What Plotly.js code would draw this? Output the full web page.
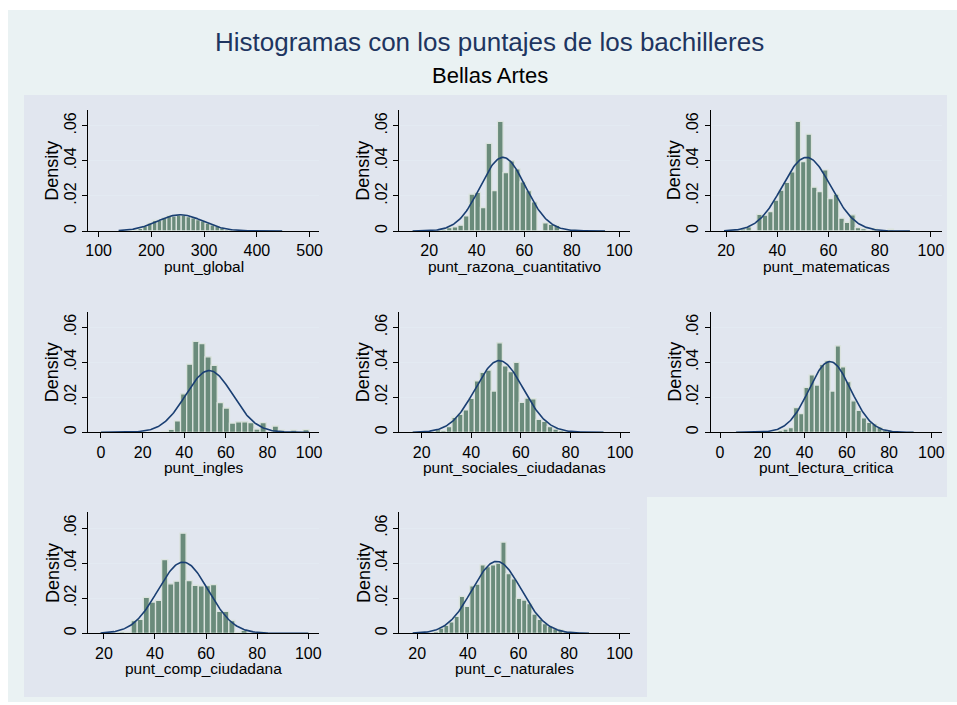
<!DOCTYPE html>
<html><head><meta charset="utf-8">
<script src="https://cdn.plot.ly/plotly-3.0.1.min.js"></script>
<style>html,body{margin:0;padding:0;background:#fff}#chart{width:957px;height:705px}</style>
</head><body><div id="chart"></div>
<script>
// ---------------- DATA ----------------
const variables = ["punt_global","punt_razona_cuantitativo","punt_matematicas","punt_ingles",
  "punt_sociales_ciudadanas","punt_lectura_critica","punt_comp_ciudadana","punt_c_naturales"];

// histogram bins: first edge and width (34 bins each), densities
const binStart = [138, 13, 19.2, 0, 16.4, 7.6, 18.7, 18.2];
const binWidth = [9.12, 2.38, 2.135, 2.94, 2.26, 2.47, 2.39, 2.05];

const dens_global = [0.0001,0,0.0003,0.0008,0.0015,0.003,0.0045,0.006,0.0062,0.0075,0.0088,0.0085,0.0092,0.009,0.0082,0.0075,0.0065,0.0058,0.0045,0.0035,0.0028,0.0018,0.001,0.0006,0.0003,0.0002,0.0001,0,0,0,0.0001,0,0,0.0001];
const dens_razona = [0.0002,0,0,0,0,0.001,0.002,0.0023,0.0033,0.0086,0.021,0.022,0.0134,0.050,0.023,0.0625,0.0333,0.040,0.0354,0.028,0.023,0.0166,0,0.0046,0.0038,0.0032,0,0,0.0005,0,0,0,0,0.0002];
const dens_matematicas = [0.0002,0.0005,0.0008,0.0012,0.0023,0,0.0095,0.009,0.011,0.0176,0.0233,0.0277,0.0338,0.0625,0.0396,0.0552,0.025,0.0224,0.0348,0.0185,0.021,0.0073,0.005,0.0092,0.0019,0.0013,0,0.0015,0,0,0.001,0,0,0.0002];
const dens_ingles = [0.0002,0,0,0,0,0,0,0,0,0,0.0005,0.0017,0.0065,0.022,0.039,0.052,0.0507,0.0432,0.0383,0.017,0.0139,0.0053,0.006,0.006,0.0055,0.0019,0.0055,0,0.0036,0.0013,0,0.0013,0,0.0015];
const dens_sociales = [0.0002,0,0,0,0.0015,0.001,0.0032,0.0086,0.0103,0.0128,0.0194,0.0295,0.0343,0.0356,0.0236,0.0512,0.038,0.0347,0.040,0.0171,0.0196,0.0192,0.0074,0.0063,0.0032,0.0019,0.001,0.0005,0,0,0,0,0,0.0002];
const dens_lectura = [0.0002,0,0,0,0,0,0.0002,0.0005,0.0011,0.0019,0.0027,0.0141,0.0107,0.0257,0.0328,0.027,0.0389,0.041,0.0236,0.0495,0.0375,0.029,0.018,0.0126,0.0082,0.0057,0.0048,0.003,0.0013,0.001,0,0,0,0.0002];
const dens_comp = [0.0002,0,0.0005,0.0008,0.0006,0.0073,0.008,0.0205,0.0178,0.0188,0.042,0.0282,0.0297,0.0571,0.030,0.0274,0.027,0.0272,0.0278,0.0125,0.0125,0.0073,0.0005,0.0017,0,0,0.0008,0,0,0,0,0,0,0.0002];
const dens_naturales = [0.0002,0,0,0,0.001,0.003,0.0045,0.0065,0.0096,0.021,0.0153,0.027,0.028,0.039,0.038,0.039,0.040,0.052,0.034,0.031,0.020,0.019,0.017,0.011,0.008,0.0055,0.004,0.0027,0.002,0.001,0.0008,0.0005,0,0.0002];

// normal density overlay parameters (mean, sd) and data range
const normMean = [255, 51, 51.4, 52, 51.3, 52, 51, 51.4];
const normSD   = [43, 9.5, 9.5, 11.3, 9.73, 9.85, 9.83, 9.73];
const dataMin  = [138, 13, 19.2, 0, 16.4, 7.6, 18.7, 18.2];
const dataMax  = [448, 94, 91.8, 100, 93.3, 91.6, 100, 87.9];

// axis ticks
const xTicks = [[100,200,300,400,500],[20,40,60,80,100],[20,40,60,80,100],[0,20,40,60,80,100],
  [20,40,60,80,100],[0,20,40,60,80,100],[20,40,60,80,100],[20,40,60,80,100]];
const xRanges = [[80.5,518.4],[7.4,104.5],[14.0,104.2],[-6.1,104.9],[11.0,104.0],[-4.4,104.9],[13.9,104.3],[12.9,104.1]];
const yTickVals = [0,0.02,0.04,0.06];
const yTickText = ["0",".02",".04",".06"];
const yTitle = "Density";

const titleText = "Histogramas con los puntajes de los bachilleres";
const subtitleText = "Bellas Artes";

// ---------------- BUILD ----------------
const allDens = [dens_global,dens_razona,dens_matematicas,dens_ingles,dens_sociales,dens_lectura,dens_comp,dens_naturales];
const W = 957, H = 705;
const colPx = [[88.3,319.3],[399.3,630],[710.7,941.7]];
const rowPx = [[110,231],[311.7,432.3],[512.3,633.3]];
const BAR = '#6a8b7b', BAROUT = '#dbe3de', LINE = '#1a3f73';
const traces = [], layout = {
  width: W, height: H, margin:{l:0,r:0,t:0,b:0}, showlegend:false,
  paper_bgcolor:'#ffffff', plot_bgcolor:'#ffffff', bargap:0, barmode:'overlay',
  font:{family:'Liberation Sans, Arial, sans-serif', color:'#000', size:16},
  shapes:[], annotations:[]
};
// background regions
layout.shapes.push({type:'rect', xref:'paper', yref:'paper', x0:8/W, x1:1, y0:1-702/H, y1:1-10/H, fillcolor:'#eaf2f3', line:{width:0}, layer:'below'});
layout.shapes.push({type:'rect', xref:'paper', yref:'paper', x0:24/W, x1:947/W, y0:1-497/H, y1:1-95/H, fillcolor:'#e1e6ef', line:{width:0}, layer:'below'});
layout.shapes.push({type:'rect', xref:'paper', yref:'paper', x0:24/W, x1:647/W, y0:1-697/H, y1:1-497/H, fillcolor:'#e1e6ef', line:{width:0}, layer:'below'});

layout.annotations.push({text:titleText, xref:'paper', yref:'paper', x:490/W, y:1-42/H, showarrow:false, xanchor:'center', yanchor:'middle', font:{size:26, color:'#1e3560'}});
layout.annotations.push({text:subtitleText, xref:'paper', yref:'paper', x:490/W, y:1-75/H, showarrow:false, xanchor:'center', yanchor:'middle', font:{size:22, color:'#000'}});

for (let k=0; k<8; k++) {
  const r = Math.floor(k/3), c = k%3;
  const ax = k===0 ? '' : String(k+1);
  const dens = allDens[k];
  const centers = dens.map((_,i)=> binStart[k] + binWidth[k]*(i+0.5));
  traces.push({type:'bar', x:centers, y:dens, width:binWidth[k], xaxis:'x'+ax, yaxis:'y'+ax,
    marker:{color:BAR, line:{color:BAROUT, width:1.3}}, hoverinfo:'skip'});
  const xs = [], ys = [];
  const n = 200;
  for (let i=0;i<=n;i++){
    const x = dataMin[k] + (dataMax[k]-dataMin[k])*i/n;
    const z = (x-normMean[k])/normSD[k];
    xs.push(x); ys.push(Math.exp(-0.5*z*z)/(normSD[k]*Math.sqrt(2*Math.PI)));
  }
  traces.push({type:'scatter', mode:'lines', x:xs, y:ys, xaxis:'x'+ax, yaxis:'y'+ax,
    line:{color:LINE, width:1.6}, hoverinfo:'skip'});
  layout['xaxis'+ax] = {domain:[colPx[c][0]/W, colPx[c][1]/W], range:xRanges[k], anchor:'y'+ax,
    tickvals:xTicks[k], ticks:'outside', ticklen:5, tickcolor:'#000', showgrid:false, zeroline:false,
    showline:true, linecolor:'#000', linewidth:1, tickfont:{size:16}};
  layout['yaxis'+ax] = {domain:[1-rowPx[r][1]/H, 1-rowPx[r][0]/H], range:[0,0.069], anchor:'x'+ax,
    tickvals:yTickVals, ticktext:yTickText, tickangle:-90, ticks:'outside', ticklen:5, tickcolor:'#000',
    showgrid:true, gridcolor:'#e3eaf2', gridwidth:1, zeroline:false,
    showline:true, linecolor:'#000', linewidth:1, tickfont:{size:16}};
  // axis titles
  layout.annotations.push({text:variables[k], xref:'paper', yref:'paper',
    x:(colPx[c][0]+colPx[c][1])/2/W, y:1-(rowPx[r][1]+35)/H, showarrow:false,
    xanchor:'center', yanchor:'middle', font:{size:15.5}});
  layout.annotations.push({text:yTitle, xref:'paper', yref:'paper', textangle:-90,
    x:(colPx[c][0]-36)/W, y:1-(rowPx[r][0]+rowPx[r][1])/2/H, showarrow:false,
    xanchor:'center', yanchor:'middle', font:{size:18}});
}
Plotly.newPlot('chart', traces, layout, {staticPlot:true});
</script></body></html>
